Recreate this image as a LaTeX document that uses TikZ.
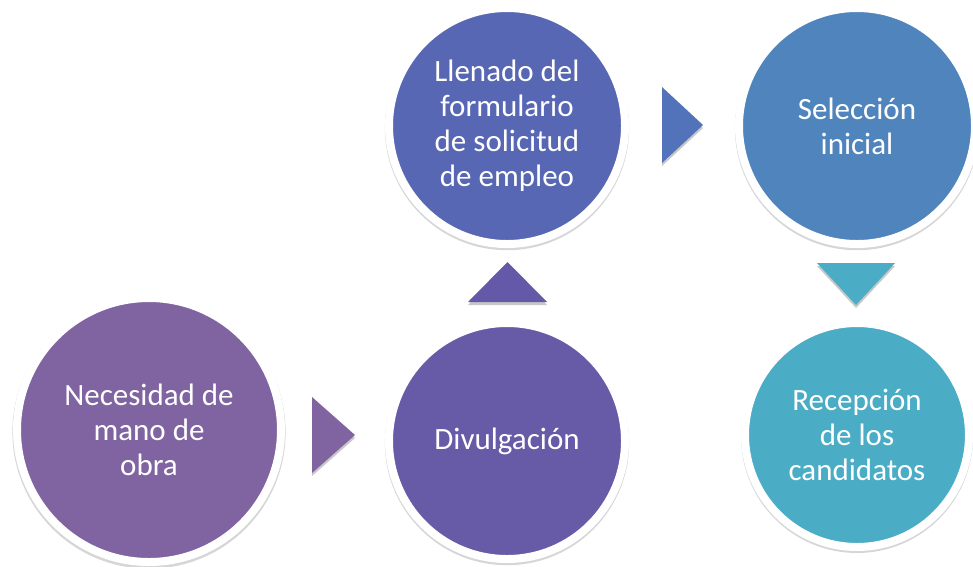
\documentclass[tikz,border=0pt]{standalone}
\usepackage{fontspec}
\setmainfont{Carlito}
\usetikzlibrary{shadows,calc}

\definecolor{necC}{HTML}{8064A2}
\definecolor{divC}{HTML}{675BA7}
\definecolor{llenC}{HTML}{5867B3}
\definecolor{selC}{HTML}{4F84BD}
\definecolor{recC}{HTML}{4BACC6}
\definecolor{arrA}{HTML}{8064A2}
\definecolor{arrB}{HTML}{6459A9}
\definecolor{arrC}{HTML}{5272BA}
\definecolor{arrD}{HTML}{4BACC6}

\tikzset{
  softshadow/.style={drop shadow={shadow xshift=0pt,shadow yshift=-3pt,opacity=0.22,fill=black}},
  ringshadow/.style={drop shadow={shadow xshift=0pt,shadow yshift=-2pt,shadow scale=1.035,opacity=0.16,fill=black}}
}

\begin{document}
\begin{tikzpicture}[x=1pt,y=-1pt]
        \useasboundingbox (0,0) rectangle (973,566);
        \begin{scope}[every node/.style={circle,draw=white,line width=8pt,text=white,align=center,
                      font=\fontsize{31}{35}\selectfont,ringshadow}]
        % Steps
        \node[fill=necC,minimum size=264pt] (nec) at (149,430) {Necesidad de\\mano de\\obra};
        \node[fill=divC,minimum size=236pt] (div) at (507,441) {Divulgación};
        \node[fill=llenC,minimum size=236pt] (llen) at (507,126) {Llenado del\\formulario\\de solicitud\\de empleo};
        \node[fill=selC,minimum size=236pt] (sel) at (857,126) {Selección\\inicial};
        \node[fill=recC,minimum size=224pt] (rec) at (857,435) {Recepción\\de los\\candidatos};
        \end{scope}

        % Arrows
        \fill[arrA,softshadow] ($(nec)!0.5!(div)$) ++(-16,-38.5) -- ++(43,38) -- ++(-43,38) -- cycle;
        \fill[arrB,softshadow] ($(div)!0.5!(llen)$) ++(-39,18.5) -- ++(79,0) -- ++(-39.5,-40) -- cycle;
        \fill[arrC,softshadow] ($(llen)!0.5!(sel)$) ++(-20,-39) -- ++(41,38) -- ++(-41,38) -- cycle;
        \fill[arrD,softshadow] ($(sel)!0.5!(rec)$) ++(-40,-17.5) -- ++(78,0) -- ++(-39,42) -- cycle;

    \end{tikzpicture}
\end{document}
